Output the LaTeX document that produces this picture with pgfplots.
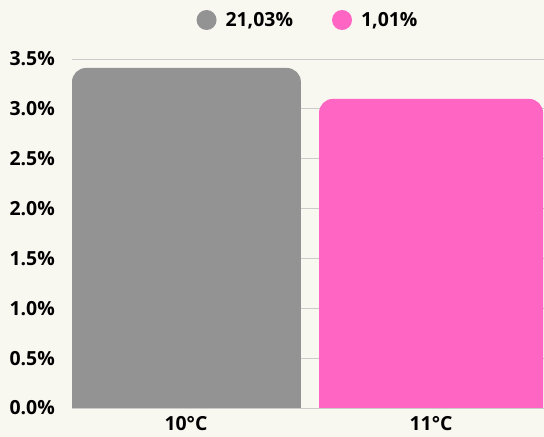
\documentclass[border=0pt]{standalone}
\usepackage{pgfplots}
\pgfplotsset{compat=1.18}
\usepackage{fontspec}
\setmainfont{Open Sans}
\definecolor{bg}{HTML}{F8F7F0}
\definecolor{bargray}{HTML}{939393}
\definecolor{barpink}{HTML}{FF66C4}
\definecolor{gridc}{HTML}{CBCBCB}
\begin{document}
\begin{tikzpicture}
\fill[bg, use as bounding box] (-72bp,-29bp) rectangle (472bp,408bp);
\begin{axis}[
  at={(0,0)}, anchor=south west,
  scale only axis, width=472bp, height=349bp,
  xmin=-0.465, xmax=1.461, ymin=0, ymax=3.5,
  xtick={0,1}, xticklabels={10°C,11°C},
  ytick={0,0.5,1,1.5,2,2.5,3,3.5},
  yticklabel={\pgfmathprintnumber[fixed,fixed zerofill,precision=1,assume math mode=true]{\tick}\%},
  ymajorgrids, grid style={gridc, line width=0.8bp},
  axis line style={draw=none},
  major tick length=0pt,
  tick label style={font=\fontsize{19.5}{22}\selectfont\bfseries},
  yticklabel style={anchor=east, inner sep=0pt, xshift=-17bp},
  xticklabel style={anchor=north, inner sep=0pt, yshift=-8bp},
  legend image code/.code={\fill[#1] (0bp,0bp) circle (10bp); \path (17bp,0bp);},
  legend style={at={(0.5,1)}, anchor=center, yshift=39bp, draw=none, fill=none,
    legend columns=2, font=\fontsize{19.5}{22}\selectfont\bfseries,
    /tikz/every even column/.append style={column sep=37bp}},
]
\addplot[fill=bargray, draw=none, rounded corners=14bp] coordinates {(-0.465,-1) (-0.465,3.41) (0.469,3.41) (0.469,-1)};
\addlegendentry{21,03\%}
\addplot[fill=barpink, draw=none, rounded corners=14bp] coordinates {(0.543,-1) (0.543,3.10) (1.457,3.10) (1.457,-1)};
\addlegendentry{1,01\%}
\end{axis}
\end{tikzpicture}
\end{document}
